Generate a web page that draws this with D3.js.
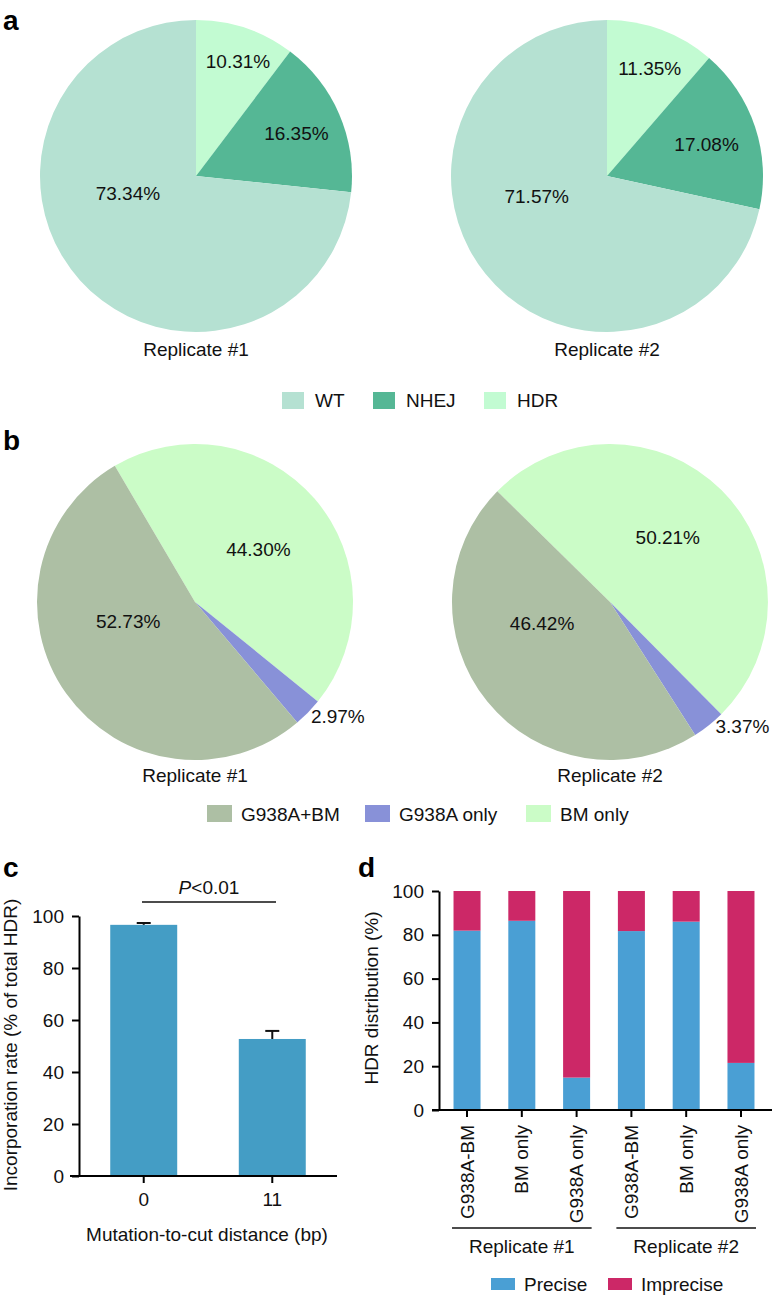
<!DOCTYPE html>
<html>
<head>
<meta charset="utf-8">
<script src="https://cdn.jsdelivr.net/npm/d3@7/dist/d3.min.js"></script>
<style>
  body { margin: 0; background: #fff; }
  svg { display: block; }
  text { font-family: "Liberation Sans", Arial, Helvetica, sans-serif; fill: #111; }
</style>
</head>
<body>
<svg id="chart" width="773" height="1296"></svg>
<script>
// ---------------- DATA ----------------
const outcomeCats = ["WT", "NHEJ", "HDR"];
const outcomeRep1 = [73.34, 16.35, 10.31];
const outcomeRep2 = [71.57, 17.08, 11.35];

const hdrCats = ["G938A+BM", "G938A only", "BM only"];
const hdrRep1 = [52.73, 2.97, 44.30];
const hdrRep2 = [46.42, 3.37, 50.21];

const distCats = ["0", "11"];
const incorpMean = [96.6, 52.7];
const incorpErr = [0.7, 3.1];
const incorpTicks = [0, 20, 40, 60, 80, 100];

const dCats = ["G938A-BM", "BM only", "G938A only", "G938A-BM ", "BM only ", "G938A only "];
const dLabels = ["G938A-BM", "BM only", "G938A only", "G938A-BM", "BM only", "G938A only"];
const dPrecise = [81.9, 86.4, 14.8, 81.7, 86.0, 21.5];
const dImprecise = [18.1, 13.6, 85.2, 18.3, 14.0, 78.5];
const dSeries = ["Precise", "Imprecise"];
const dGroups = ["Replicate #1", "Replicate #2"];
const dTicks = [0, 20, 40, 60, 80, 100];

// ---------------- STYLE / LAYOUT ----------------
const FS = 19;
const colA = {"WT": "#b5e1d2", "NHEJ": "#55b795", "HDR": "#c2fbd2"};
const colB = {"G938A+BM": "#adbfa4", "G938A only": "#8891d8", "BM only": "#cbfcc7"};
const barColC = "#449dc5";
const colD = {"Precise": "#4a9fd4", "Imprecise": "#cc2867"};

const svg = d3.select("#chart");

function panelLetter(t, x, y) {
  svg.append("text").attr("x", x).attr("y", y).attr("font-size", 28)
    .attr("font-weight", "bold").style("fill", "#000").text(t);
}
panelLetter("a", 3, 30);
panelLetter("b", 3, 450);
panelLetter("c", 3, 877);
panelLetter("d", 358, 877);

// generic pie drawer
function drawPie(cx, cy, r, cats, vals, colors, order, startDeg, labelPolar, title, titleY) {
  const g = svg.append("g").attr("transform", `translate(${cx},${cy})`);
  const items = order.map(i => ({cat: cats[i], v: vals[i], idx: i}));
  const s = startDeg * Math.PI / 180;
  const pie = d3.pie().sort(null).value(d => d.v).startAngle(s).endAngle(s + 2 * Math.PI);
  const arc = d3.arc().innerRadius(0).outerRadius(r);
  const arcs = pie(items);
  g.selectAll("path").data(arcs).join("path")
    .attr("d", arc).attr("fill", d => colors[d.data.cat]);
  g.selectAll("text.lbl").data(arcs).join("text").attr("class", "lbl")
    .attr("font-size", FS).attr("text-anchor", "middle").attr("dy", "0.35em")
    .attr("x", d => { const p = labelPolar[d.data.idx]; return p[1] * r * Math.sin(p[0] * Math.PI / 180); })
    .attr("y", d => { const p = labelPolar[d.data.idx]; return -p[1] * r * Math.cos(p[0] * Math.PI / 180); })
    .text(d => d.data.v.toFixed(2) + "%");
  svg.append("text").attr("x", cx).attr("y", titleY).attr("text-anchor", "middle")
    .attr("font-size", FS).text(title);
}

// label polar positions [angle from top clockwise (deg), radius fraction], by category index
drawPie(196, 176, 156, outcomeCats, outcomeRep1, colA, [2, 1, 0], 0,
  [[256, 0.45], [66.9, 0.70], [20.2, 0.78]], "Replicate #1", 356);
drawPie(607, 176, 156, outcomeCats, outcomeRep2, colA, [2, 1, 0], 0,
  [[253.5, 0.47], [72.3, 0.67], [21.7, 0.74]], "Replicate #2", 356);

drawPie(195, 602, 158, hdrCats, hdrRep1, colB, [2, 1, 0], -30.5,
  [[254, 0.44], [128.8, 1.16], [50.5, 0.52]], "Replicate #1", 782);
drawPie(610, 602, 158, hdrCats, hdrRep2, colB, [2, 1, 0], -45.5,
  [[252.8, 0.45], [133.2, 1.15], [41.7, 0.55]], "Replicate #2", 782);

// legends
function legend(items, colors, xs, sqW, sqH, yTop, textY, textGap) {
  items.forEach((c, i) => {
    svg.append("rect").attr("x", xs[i]).attr("y", yTop).attr("width", sqW).attr("height", sqH)
      .attr("fill", colors[c]);
    svg.append("text").attr("x", xs[i] + sqW + textGap).attr("y", textY)
      .attr("font-size", FS).text(c);
  });
}
legend(outcomeCats, colA, [282, 373, 484], 22, 17, 392, 407, 11);
legend(hdrCats, colB, [207, 365, 526], 25, 17, 805, 821, 9);

// ---------------- PANEL C ----------------
const cy0 = 1176, cy1 = 916;
const yC = d3.scaleLinear().domain([0, 100]).range([cy0, cy1]);
const xC = d3.scaleBand().domain(distCats).range([79, 337]).paddingInner(0.479).paddingOuter(0.243);

const gCy = svg.append("g").attr("transform", "translate(79,0)")
  .call(d3.axisLeft(yC).tickValues(incorpTicks).tickSize(7).tickSizeOuter(0).tickPadding(8));
gCy.selectAll("path, line").attr("stroke", "#000").attr("stroke-width", 2);
gCy.selectAll("text").attr("font-size", FS).attr("font-family", "Liberation Sans, Arial, sans-serif").style("fill", "#111");

svg.selectAll("rect.cbar").data(distCats).join("rect").attr("class", "cbar")
  .attr("x", d => xC(d)).attr("width", xC.bandwidth())
  .attr("y", (d, i) => yC(incorpMean[i])).attr("height", (d, i) => cy0 - yC(incorpMean[i]))
  .attr("fill", barColC);

// error bars (upper)
distCats.forEach((d, i) => {
  const cx = xC(d) + xC.bandwidth() / 2;
  svg.append("line").attr("x1", cx).attr("x2", cx)
    .attr("y1", yC(incorpMean[i])).attr("y2", yC(incorpMean[i] + incorpErr[i]))
    .attr("stroke", "#111").attr("stroke-width", 2);
  svg.append("line").attr("x1", cx - 7).attr("x2", cx + 7)
    .attr("y1", yC(incorpMean[i] + incorpErr[i])).attr("y2", yC(incorpMean[i] + incorpErr[i]))
    .attr("stroke", "#111").attr("stroke-width", 2);
});

const gCx = svg.append("g").attr("transform", `translate(0,${cy0})`)
  .call(d3.axisBottom(xC).tickSize(7).tickSizeOuter(0).tickPadding(10));
gCx.select("path.domain").remove();
gCx.selectAll("line").attr("stroke", "#000").attr("stroke-width", 2);
gCx.selectAll("text").attr("font-size", FS).attr("font-family", "Liberation Sans, Arial, sans-serif").style("fill", "#111");
svg.append("line").attr("x1", 70).attr("x2", 337).attr("y1", cy0).attr("y2", cy0)
  .attr("stroke", "#000").attr("stroke-width", 2);

svg.append("text").attr("x", 207).attr("y", 1241).attr("text-anchor", "middle")
  .attr("font-size", FS).text("Mutation-to-cut distance (bp)");
svg.append("text").attr("transform", "translate(17,1045) rotate(-90)").attr("text-anchor", "middle")
  .attr("font-size", FS).text("Incorporation rate (% of total HDR)");

// significance
svg.append("line").attr("x1", 142).attr("x2", 276).attr("y1", 902).attr("y2", 902)
  .attr("stroke", "#111").attr("stroke-width", 1.5);
const pt = svg.append("text").attr("x", 209).attr("y", 894).attr("text-anchor", "middle").attr("font-size", FS);
pt.append("tspan").attr("font-style", "italic").text("P");
pt.append("tspan").text("<0.01");

// ---------------- PANEL D ----------------
const dy0 = 1110, dy1 = 891;
const yD = d3.scaleLinear().domain([0, 100]).range([dy0, dy1]);
const xD = d3.scaleBand().domain(dCats).range([439, 769]).paddingInner(0.507).paddingOuter(0.265);

const dRows = dCats.map((c, i) => ({cat: c, Precise: dPrecise[i], Imprecise: dImprecise[i]}));
const stack = d3.stack().keys(dSeries)(dRows);
svg.append("g").selectAll("g").data(stack).join("g").attr("fill", d => colD[d.key])
  .selectAll("rect").data(d => d).join("rect")
  .attr("x", d => xD(d.data.cat)).attr("width", xD.bandwidth())
  .attr("y", d => yD(d[1])).attr("height", d => yD(d[0]) - yD(d[1]));

const gDy = svg.append("g").attr("transform", "translate(439,0)")
  .call(d3.axisLeft(yD).tickValues(dTicks).tickSize(7).tickSizeOuter(0).tickPadding(8));
gDy.selectAll("path, line").attr("stroke", "#000").attr("stroke-width", 2);
gDy.selectAll("text").attr("font-size", FS).attr("font-family", "Liberation Sans, Arial, sans-serif").style("fill", "#111");

const gDx = svg.append("g").attr("transform", `translate(0,${dy0})`)
  .call(d3.axisBottom(xD).tickSize(7).tickSizeOuter(0).tickFormat(""));
gDx.select("path.domain").remove();
gDx.selectAll("line").attr("stroke", "#000").attr("stroke-width", 2);
svg.append("line").attr("x1", 432).attr("x2", 772).attr("y1", dy0).attr("y2", dy0)
  .attr("stroke", "#000").attr("stroke-width", 2);

dCats.forEach((c, i) => {
  const x = xD(c) + xD.bandwidth() / 2;
  svg.append("text").attr("transform", `translate(${x},1125) rotate(-90)`)
    .attr("text-anchor", "end").attr("dy", "0.35em").attr("font-size", FS).text(dLabels[i]);
});

// group brackets
[[0, 2], [3, 5]].forEach((g, gi) => {
  const xa = xD(dCats[g[0]]) - 1.5, xb = xD(dCats[g[1]]) + xD.bandwidth() + 1.5;
  svg.append("line").attr("x1", xa).attr("x2", xb).attr("y1", 1228).attr("y2", 1228)
    .attr("stroke", "#111").attr("stroke-width", 1.5);
  svg.append("text").attr("x", (xa + xb) / 2).attr("y", 1253).attr("text-anchor", "middle")
    .attr("font-size", FS).text(dGroups[gi]);
});

svg.append("text").attr("transform", "translate(378,998) rotate(-90)").attr("text-anchor", "middle")
  .attr("font-size", FS).text("HDR distribution (%)");

legend(dSeries, colD, [491, 608], 24, 12, 1278, 1291, 9);
</script>
</body>
</html>
